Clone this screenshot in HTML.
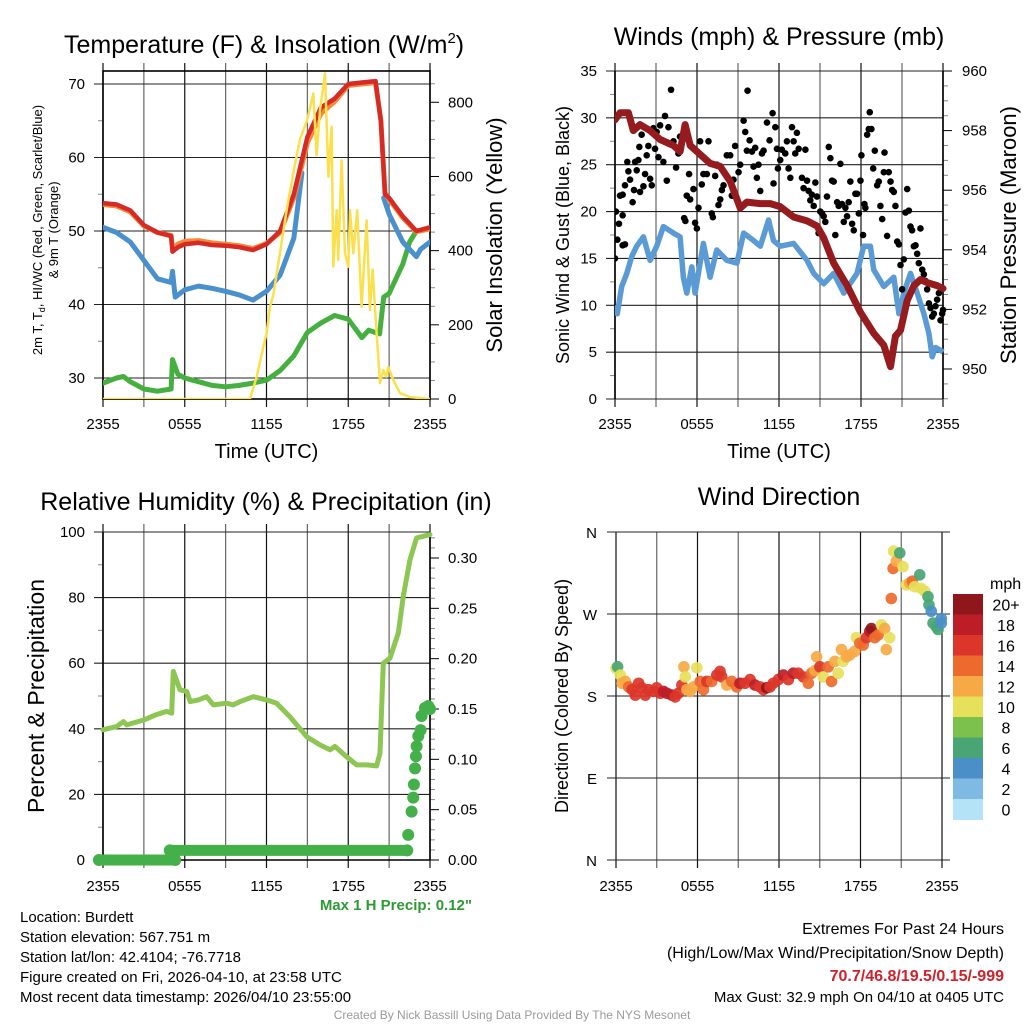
<!DOCTYPE html>
<html><head><meta charset="utf-8">
<style>
html,body{margin:0;padding:0;background:#fff;}
svg{display:block;font-family:"Liberation Sans",Arial,sans-serif;}
</style></head>
<body>
<svg id="fig" width="1024" height="1024" viewBox="0 0 1024 1024" xmlns="http://www.w3.org/2000/svg">
<rect width="1024" height="1024" fill="#fff"/>
<g id="root"></g>
</svg>
<script>
// ===== Data (time in hours since 2355 UTC) =====
const timeTicks = ["2355","0555","1155","1755","2355"];
// Panel 1: temperatures (F)
const tempT = [0,1,2,3,4,5,5.1,5.5,6,7,8,9,10,11,12,13,14,15,16,17,18,19,20,20.4,20.7,21,22,23,24];
const tempV = [53.8,53.6,52.8,50.8,49.8,49.3,47.2,47.8,48.2,48.4,48.1,48,47.8,47.4,48.2,50,55,62.8,66.8,68,70,70.2,70.4,65,55,54.5,52,50,50.5];
const temp9V = [53.6,53.4,52.6,50.7,49.8,49.4,47.6,48.2,48.6,48.7,48.4,48.2,48,47.6,48.3,49.8,54.5,62,66,67.6,69.8,70,70.2,65,55.2,54.3,51.8,49.9,50.3];
const dewT = [0,1,2,3,4,5,5.1,5.3,6,7,8,9,10,11,12,13,14,14.6,null,20.6,21,22,23,23.3,24];
const dewV = [50.5,49.8,48.5,46,43.5,43,44.5,41,42,42.5,42.2,41.8,41.3,40.6,41.8,44,49,57.9,null,54.5,52.3,48.5,46.5,47.5,48.5];
const hiT = [0,1,1.5,2,3,4,5,5.1,5.5,6,7,8,9,10,11,12,13,14,15,16,17,18,19,19.5,20.3,20.6,21,22,22.5,23,24];
const hiV = [29.3,30,30.2,29.5,28.5,28.2,28.5,32.5,30.5,30,29.5,29,28.8,29,29.3,29.7,31,33,36.2,37.5,38.5,38,35.5,36.5,36,41,41.5,45.5,48.5,50,50.3];
const solarT = [0,10.79,11.28,11.77,12.01,12.26,12.5,13.01,13.48,14.02,14.46,14.99,15.44,15.68,15.93,16.29,16.54,16.78,16.9,17.15,17.27,17.51,17.76,18.0,18.13,18.37,18.66,18.98,19.35,19.59,19.79,20.08,20.33,20.57,20.77,20.94,21.31,21.8,22.53,24];
const solarV = [0,0,60,141,178,249,280,400,510,620,700,752,824,657,779,878,599,734,357,509,375,644,393,357,509,393,509,249,482,240,349,178,43,78,60,86,51,16,5,0];
// Panel 2: wind (mph) and pressure (mb)
const windT = [0,0.17,0.49,0.86,1.22,1.59,2.08,2.57,3.05,3.54,4.28,4.76,5.0,5.25,5.62,5.86,6.47,6.96,7.45,8.18,8.92,9.41,10.14,10.63,11.24,11.6,12.09,13.07,14.05,14.54,15.27,16.0,16.74,17.71,18.2,18.69,18.93,19.67,20.4,20.77,21.13,21.62,22.11,22.6,22.97,23.21,23.45,23.82,24];
const windV = [10,9.1,12,13.4,15.2,16.3,17.3,14.8,16.3,18.4,17.7,17.3,13,11.3,14.1,11.3,16.6,13,15.9,14.8,14.5,17.7,16.9,16.3,19.1,16.9,16.3,16.6,14.8,13.4,12.3,13.4,11.3,13.4,16.3,16.3,13.8,12,13,9.1,11.3,13.4,11.3,9.1,7,4.5,5.5,5.2,5.0];
const gustT = [0,0.07,0.17,0.29,0.37,0.56,0.56,0.73,0.56,0.73,0.9,0.98,1.1,1.29,1.39,1.47,1.59,1.71,1.78,1.83,1.95,2.08,2.2,2.32,2.44,2.57,2.69,2.81,2.93,3.05,3.18,3.3,3.54,3.66,3.79,3.91,4.1,4.28,4.47,4.64,4.76,5.06,5.15,5.25,5.42,5.5,5.74,5.86,5.99,6.11,6.23,6.35,6.47,6.72,6.84,7.08,7.16,7.33,7.45,7.57,7.7,7.82,7.94,8.18,8.43,8.55,8.67,8.79,9.04,9.16,9.41,9.53,9.65,9.7,9.85,10.02,10.14,10.26,10.38,10.5,10.63,10.75,10.87,11.12,11.31,11.53,11.6,11.73,11.85,11.92,12.09,12.21,12.46,12.58,12.7,12.83,12.95,13.07,13.19,13.31,13.44,13.68,13.8,13.93,14.05,14.17,14.29,14.41,14.54,14.66,14.78,14.9,15.02,15.15,15.27,15.39,15.51,15.64,15.76,15.88,16.0,16.12,16.25,16.37,16.49,16.61,16.74,16.86,16.98,17.1,17.22,17.35,17.47,17.59,17.71,17.84,17.96,18.03,18.15,18.25,18.32,18.45,18.57,18.64,18.76,18.89,19.01,19.18,19.3,19.42,19.55,19.67,19.72,19.91,20.03,20.16,20.28,20.4,20.52,20.65,20.77,20.89,21.01,21.13,21.26,21.38,21.5,21.62,21.74,21.87,21.99,22.11,22.23,22.35,22.48,22.6,22.72,22.84,22.97,23.09,23.21,23.33,23.45,23.57,23.7,23.82,23.94,24];
const gustV = [15,20,17,18.7,21.7,19.6,16.4,16.5,21.8,22.8,25.3,24.3,23.4,21,22.3,25.3,24.4,25.5,26.9,22.1,28.2,22.7,24,26,27,23.5,22.8,28.9,26.7,28.5,25.8,29.2,25.3,30.2,23.3,29,33,27.5,24.7,26.2,28,19.3,19,21.7,24,21.3,22.4,18.8,18.2,20.4,27.5,22.9,24,24,27.5,19.8,19.4,23.8,25,20.7,21.3,22.3,22.8,26,26,21.7,23.4,27,24.2,25,29.7,28.5,26.5,32.9,27.6,26.4,24.8,26.8,23.6,25,22.2,26.2,26.5,29.5,27.6,30.5,23,29,26.7,24.6,25.5,26.6,26.2,27.5,24.6,23.6,29,27.5,26.2,28.4,26.7,23.6,22.5,26.6,23.3,22.2,21.2,21.8,20.6,23.1,21.6,17.7,20,19.8,19.5,18.9,21.6,26.9,25.7,23.3,23.2,17.5,21,20.6,25.1,20.8,18.9,20.4,19.5,21,23.2,18.7,18,21.9,21.9,19.8,23.3,26,17.5,20.8,20.4,28.2,28.8,30.6,28.8,24.6,26.5,22.8,23.2,20.6,19.2,24.2,26.3,17.4,24.2,23.2,22.3,22.1,20.6,16.8,16.5,14.3,11.7,14.9,19.9,22.4,20.1,18.4,18,16.3,16.4,15.5,14.5,18.2,13.8,13.3,12.6,11.7,10.2,9.7,8.8,9.1,9.9,10.6,11.3,8.4,9.1,9.5];
const presT = [0,0.37,0.98,1.34,1.83,2.57,3.3,4.28,4.76,5.13,5.5,6.23,6.96,7.7,8.43,8.92,9.16,9.65,10.63,11.36,12.09,13.07,14.05,14.78,15.27,16.0,16.98,17.96,18.93,19.67,20.16,20.52,20.89,21.38,21.87,22.35,22.84,23.57,24];
const presV = [958.36,958.6,958.6,958.0,958.2,958.0,957.7,957.5,957.3,958.2,957.5,957.2,956.9,956.8,956.3,955.7,955.4,955.6,955.55,955.55,955.45,955.1,954.97,954.8,954.4,953.55,952.8,951.9,951.2,950.8,950.08,951.1,951.3,952.3,952.8,953.0,952.9,952.8,952.7];
// Panel 3: RH (%) and precipitation (in)
const rhT = [0,1,1.5,1.75,3,3.9,4.67,5.04,5.16,5.65,6.14,6.4,7,7.6,8.1,9.08,9.56,10.05,11.03,12.01,12.74,13.72,14.95,15.92,16.66,17.03,17.88,18.62,19.35,20.08,20.33,20.57,21.06,21.67,22.04,22.53,23.02,24];
const rhV = [39.7,40.7,42.2,41.2,42.7,44.3,45.3,44.8,57.5,51.9,51.4,48.3,48.8,49.8,47.3,47.8,47.3,48.3,49.8,48.8,47.8,43.7,37.6,35.1,33.6,34.6,31.5,29,29,28.7,32.6,60,61.5,69.2,80.4,91.6,98.2,99.2];
const precipT = [-0.3,5.3,null,4.9,22.33,22.4,22.65,22.77,22.82,22.9,22.97,23.02,23.14,23.31,23.38,23.63,23.87,24];
const precipV = [0,0,null,0.0095,0.0095,0.025,0.048,0.062,0.075,0.091,0.103,0.113,0.123,0.129,0.143,0.151,0.153,0.15];
// Panel 4: wind direction (deg) coloured by speed (mph)
const dirT = [0,0.12,0.32,0.44,0.69,0.93,1.18,1.42,1.67,1.91,2.16,2.4,2.77,3.0,3.26,3.5,3.75,4.11,4.36,4.6,4.85,5.0,5.1,5.22,5.46,5.7,5.95,6.2,6.44,6.69,7.05,7.42,7.66,7.79,8.16,8.52,8.89,9.13,9.5,9.87,10.23,10.6,10.85,11.09,11.34,11.58,11.95,12.32,12.69,13.05,13.42,13.79,14.16,14.4,14.65,14.77,15.01,15.26,15.62,15.87,16.11,16.36,16.6,16.72,16.97,17.21,17.58,17.7,17.95,18.2,18.44,18.68,18.8,19.05,19.3,19.54,19.78,19.9,20.15,20.27,20.4,20.44,20.64,20.89,21.13,21.38,21.62,21.82,21.99,22.36,22.48,22.73,22.97,23.04,23.21,23.34,23.58,23.71,23.95,23.95];
const dirV = [210.6,212,203,194,196,190,187,181,194,189,181,187,185,189,183,185,183,181,179,183,192,212,201,187,185,190,211,196,187,196,196,203,207,201,192,196,190,194,194,198,192,190,187,189,190,194,198,203,198,205,205,201,194,205,208,223,212,201,212,196,218,205,231,218,223,225,229,244,238,236,244,251,254,244,247,258,254,231,244,287,320,339,328,337,322,302,304,306,300,313,298,295,289,280,273,260,256,253,265,260];
const dirSpd = [10,7,10,12,12,14,16,16,16,16,16,16,16,16,16,18,18,18,16,16,16,12,10,12,12,12,10,14,14,16,14,16,16,16,12,14,14,18,16,16,18,16,16,20,16,16,16,18,16,18,16,16,14,14,12,12,16,10,14,14,12,10,12,10,12,12,12,10,14,14,16,18,20,14,14,10,12,12,10,14,14,10,12,6,10,10,12,14,10,7,10,10,7,6,4,6,6,6,4,4];
const speedLabels = ["0","2","4","6","8","10","12","14","16","18","20+"];
const speedColors = ["#b4e2f6","#7fbae4","#4a8fc8","#49a574","#7cc14b","#e6e05a","#f6a944","#ee6a2c","#db3629","#bd1d27","#8f171b"];

// ===== Helpers =====
const NS="http://www.w3.org/2000/svg";
const root=document.getElementById('root');
function mk(tag,attrs,parent){const e=document.createElementNS(NS,tag);for(const k in attrs)e.setAttribute(k,attrs[k]);(parent||root).appendChild(e);return e;}
function txt(s,x,y,size,anchor,parent,extra){const e=mk('text',Object.assign({x:x,y:y,'font-size':size,'text-anchor':anchor||'start',fill:'#000'},extra||{}),parent);e.textContent=s;return e;}
function lin(d0,d1,r0,r1){return v=>r0+(v-d0)*(r1-r0)/(d1-d0);}
function pathFrom(T,V,sx,sy){let d='',pen=false;for(let i=0;i<T.length;i++){if(T[i]===null){pen=false;continue;}d+=(pen?'L':'M')+sx(T[i]).toFixed(1)+','+sy(V[i]).toFixed(1);pen=true;}return d;}
function clipRect(id,x,y,w,h){const c=mk('clipPath',{id:id});mk('rect',{x:x,y:y,width:w,height:h},c);}

function timeAxis(g,L,R,T,B,labelY,frameTop,showTitle,titleY){
  const sx=lin(0,24,L,R);
  for(let h=0;h<=24;h+=3){
    const x=sx(h);
    const ln=mk('line',{x1:x,y1:frameTop-8,x2:x,y2:B+8,stroke:(h%6===0)?'#111':'#666','stroke-width':1.2},g);
    
    
  }
  timeTicks.forEach((s,i)=>{const t=txt(s,sx(i*6),labelY,15,'middle',g);});
  if(showTitle){const t=txt('Time (UTC)',(L+R)/2,titleY,20,'middle',g);}
  return sx;
}

// ===== Panel 1 =====
(function(){
  const g=mk('g',{});  
  const L=103,R=430,T=71,B=399;
  const sx=timeAxis(g,L,R,T,B,429,T,true,458);
  const sy=lin(30,70,378,84);
  const sy2=lin(0,800,399,102.3);
  [30,40,50,60,70].forEach(v=>{const l=mk('line',{x1:L-9,y1:sy(v),x2:R,y2:sy(v),stroke:'#222','stroke-width':1.1},g);
    const t=txt(String(v),85,sy(v)+5,15,'end',g);});
  [35,45,55,65].forEach(v=>mk('line',{x1:L-5,y1:sy(v),x2:L,y2:sy(v),stroke:'#888'},g));
  for(let v=0;v<=850;v+=50){mk('line',{x1:R,y1:sy2(v),x2:R+(v%200===0?9:5),y2:sy2(v),stroke:v%200===0?'#000':'#888'},g);}
  [0,200,400,600,800].forEach(v=>{const t=txt(String(v),448,sy2(v)+5,15,'start',g);});
  mk('rect',{x:L,y:T,width:R-L,height:B-T,fill:'none',stroke:'#000','stroke-width':1.6},g);
  clipRect('c1',L,T,R-L,B-T);
  const cg=mk('g',{'clip-path':'url(#c1)'},g);
  const add=(d,col,w,name)=>{const p=mk('path',{d:d,fill:'none',stroke:col,'stroke-width':w,'stroke-linejoin':'round','stroke-linecap':'round'},cg);};
  add(pathFrom(hiT,hiV,sx,sy),'#45b040',5,'heat-index-line');
  add(pathFrom(dewT,dewV,sx,sy),'#4a90cd',5,'dewpoint-line');
  add(pathFrom(tempT,temp9V,sx,sy),'#f5893a',5,'temp-9m-line');
  add(pathFrom(tempT,tempV,sx,sy),'#d62a27',4.5,'temp-2m-line');
  add(pathFrom(solarT,solarV,sx,sy2),'#fbe04c',2.5,'solar-line');
  const t=txt('Temperature (F) & Insolation (W/m',64,53,25,'start',g);
  const ts=mk('tspan',{dy:-10,'font-size':15},t);ts.textContent='2';const ts2=mk('tspan',{dy:10},t);ts2.textContent=')';
  const a=txt('2m T, T',0,0,13,'middle',g,{transform:'translate(42,230) rotate(-90)'});
  a.textContent='';const s1=mk('tspan',{},a);s1.textContent='2m T, T';const s2=mk('tspan',{dy:3,'font-size':9},a);s2.textContent='d';const s3=mk('tspan',{dy:-3},a);s3.textContent=', HI/WC (Red, Green, Scarlet/Blue)';
  const b=txt('& 9m T (Orange)',0,0,13,'middle',g,{transform:'translate(58,230) rotate(-90)'});
  const c=txt('Solar Insolation (Yellow)',0,0,22,'middle',g,{transform:'translate(502,235) rotate(-90)'});
})();

// ===== Panel 2 =====
(function(){
  const g=mk('g',{});  
  const L=615,R=943,T=71,B=399;
  const sx=timeAxis(g,L,R,T,B,429,T,true,458);
  const sy=lin(0,35,399,71);
  const sy2=lin(950,960,369,71);
  [0,5,10,15,20,25,30,35].forEach(v=>{const l=mk('line',{x1:L-9,y1:sy(v),x2:R,y2:sy(v),stroke:'#222','stroke-width':1.1},g);
    const t=txt(String(v),597,sy(v)+5,15,'end',g);});
  for(let v=2.5;v<35;v+=5)mk('line',{x1:L-5,y1:sy(v),x2:L,y2:sy(v),stroke:'#888'},g);
  for(let v=949;v<=960;v+=0.5){const maj=(v%2===0);mk('line',{x1:R,y1:sy2(v),x2:R+(maj?9:5),y2:sy2(v),stroke:maj?'#000':'#888'},g);}
  [950,952,954,956,958,960].forEach(v=>{const t=txt(String(v),962,sy2(v)+5,15,'start',g);});
  mk('line',{x1:L,y1:T,x2:L,y2:B,stroke:'#000','stroke-width':1.6},g);
  mk('line',{x1:R,y1:T,x2:R,y2:B,stroke:'#000','stroke-width':1.6},g);
  clipRect('c2',L,T-4,R-L+4,B-T+4);
  const cg=mk('g',{'clip-path':'url(#c2)'},g);
  const wp=mk('path',{d:pathFrom(windT,windV,sx,sy),fill:'none',stroke:'#5b9bd5','stroke-width':5.5,'stroke-linejoin':'round'},cg);
  
  gustT.forEach((h,i)=>{const c=mk('circle',{cx:sx(h),cy:sy(gustV[i]),r:3.3,fill:'#000'},cg);
    
    });
  const pp=mk('path',{d:pathFrom(presT,presV,sx,sy2),fill:'none',stroke:'#961b1e','stroke-width':7,'stroke-linejoin':'round','stroke-linecap':'round'},cg);
  
  const t=txt('Winds (mph) & Pressure (mb)',779,45,25,'middle',g);
  const a=txt('Sonic Wind & Gust (Blue, Black)',0,0,18,'middle',g,{transform:'translate(569,235) rotate(-90)'});
  const b=txt('Station Pressure (Maroon)',0,0,22,'middle',g,{transform:'translate(1016,235) rotate(-90)'});
})();

// ===== Panel 3 =====
(function(){
  const g=mk('g',{});  
  const L=103,R=430,T=532,B=860;
  const sx=timeAxis(g,L,R,T,B,891,T,false,0);
  const sy=lin(0,100,860,532);
  const sy2=lin(0,0.30,860,558);
  [0,20,40,60,80,100].forEach(v=>{const l=mk('line',{x1:L-9,y1:sy(v),x2:R,y2:sy(v),stroke:'#222','stroke-width':1.1},g);
    const t=txt(String(v),85,sy(v)+5,15,'end',g);});
  [10,30,50,70,90].forEach(v=>mk('line',{x1:L-5,y1:sy(v),x2:L,y2:sy(v),stroke:'#888'},g));
  for(let i=0;i<=32;i++){const v=i/100;const maj=(i%5===0);mk('line',{x1:R,y1:sy2(v),x2:R+(maj?9:5),y2:sy2(v),stroke:maj?'#000':'#888'},g);}
  ["0.00","0.05","0.10","0.15","0.20","0.25","0.30"].forEach((s,i)=>{const t=txt(s,448,sy2(i*0.05)+5,15,'start',g);});
  mk('line',{x1:L,y1:T,x2:L,y2:B,stroke:'#000','stroke-width':1.6},g);
  mk('line',{x1:R,y1:T,x2:R,y2:B,stroke:'#000','stroke-width':1.6},g);
  mk('line',{x1:L,y1:B,x2:R,y2:B,stroke:'#000','stroke-width':1.6},g);
  const rp=mk('path',{d:pathFrom(rhT,rhV,sx,sy),fill:'none',stroke:'#8dc653','stroke-width':5,'stroke-linejoin':'round','stroke-linecap':'round'},g);
  
  const pl=mk('path',{d:pathFrom(precipT.slice(0,5),precipV.slice(0,5),sx,sy2),fill:'none',stroke:'#43b04a','stroke-width':11,'stroke-linecap':'round'},g);
  
  precipT.forEach((h,i)=>{if(h===null)return;const c=mk('circle',{cx:sx(h),cy:sy2(precipV[i]),r:6,fill:'#43b04a'},g);
    
    });
  const t=txt('Relative Humidity (%) & Precipitation (in)',266,510,25,'middle',g);
  const a=txt('Percent & Precipitation',0,0,23,'middle',g,{transform:'translate(44,696) rotate(-90)'});
  const m=txt('Max 1 H Precip: 0.12"',472,910,15,'end',g,{fill:'#2e9a34','font-weight':'bold'});
})();

// ===== Panel 4 =====
(function(){
  const g=mk('g',{});  
  const L=616,R=942,T=532,B=860;
  const sx=timeAxis(g,L,R,T,B,891,T+8,false,0);
  const sy=lin(0,360,860,532);
  [["N",0],["E",90],["S",180],["W",270],["N",360]].forEach(p=>{const l=mk('line',{x1:L-9,y1:sy(p[1]),x2:R+8,y2:sy(p[1]),stroke:'#222','stroke-width':1.1},g);
    const t=txt(p[0],597,sy(p[1])+6,15,'end',g);});
  dirT.forEach((h,i)=>{const k=Math.min(10,Math.floor(dirSpd[i]/2));const c=mk('circle',{cx:sx(h),cy:sy(dirV[i]),r:5.8,fill:speedColors[k],'fill-opacity':0.92},g);
    
    });
  const t=txt('Wind Direction',779,505,25,'middle',g);
  const a=txt('Direction (Colored By Speed)',0,0,18,'middle',g,{transform:'translate(568,696) rotate(-90)'});
  const lg=mk('g',{},g);
  const u=txt('mph',990,589,16,'start',lg);
  const bh=20.5;
  for(let i=0;i<11;i++){const j=10-i;const y=594+i*bh;
    const r=mk('rect',{x:953,y:y,width:30,height:bh+0.5,fill:speedColors[j]},lg);
    
    
    const tl=txt(speedLabels[j],1006,y+bh/2+6,16,'middle',lg);
    
    }
})();

// ===== Footer text =====
(function(){
  const g=mk('g',{});
  ["Location: Burdett","Station elevation: 567.751 m","Station lat/lon: 42.4104; -76.7718","Figure created on Fri, 2026-04-10, at 23:58 UTC","Most recent data timestamp: 2026/04/10 23:55:00"].forEach((s,i)=>{const t=txt(s,20,922+i*20,15,'start',g);});
  const e=mk('g',{});
  const l1=txt('Extremes For Past 24 Hours',1004,934,16,'end',e);
  const l2=txt('(High/Low/Max Wind/Precipitation/Snow Depth)',1004,958,16,'end',e);
  const l3=txt('70.7/46.8/19.5/0.15/-999',1004,981,16,'end',e,{fill:'#d0212b','font-weight':'bold'});
  const l4=txt('Max Gust: 32.9 mph On 04/10 at 0405 UTC',1004,1002,15,'end',e);
  const f=txt('Created By Nick Bassill Using Data Provided By The NYS Mesonet',512,1019,12,'middle',null,{fill:'#9a9a9a'});
})();
</script>
</body></html>
